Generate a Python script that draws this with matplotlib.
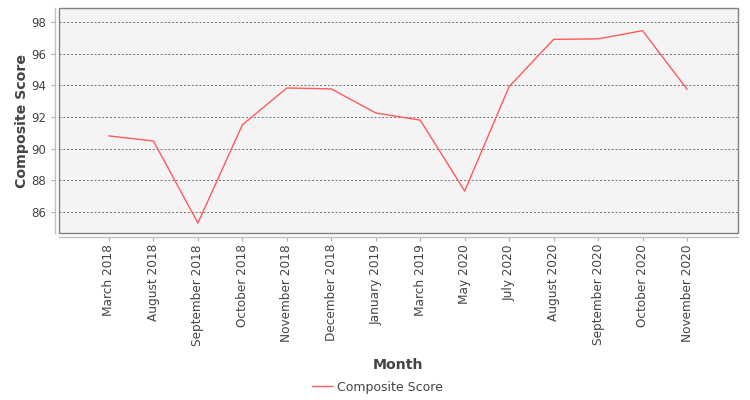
import matplotlib
matplotlib.use("Agg")
import matplotlib.pyplot as plt
from matplotlib.patches import Rectangle

# --- data ---
months = ["March 2018", "August 2018", "September 2018", "October 2018",
          "November 2018", "December 2018", "January 2019", "March 2019",
          "May 2020", "July 2020", "August 2020", "September 2020",
          "October 2020", "November 2020"]
scores = [90.8, 90.48, 85.3, 91.5, 93.83, 93.77, 92.25, 91.8,
          87.32, 93.92, 96.9, 96.93, 97.45, 93.75]
y_ticks = [86, 88, 90, 92, 94, 96, 98]

plt.rcParams['font.family'] = ['DejaVu Sans']

fig = plt.figure(figsize=(7.5, 4), dpi=100)
ax = fig.add_axes([59 / 750, 1 - 233 / 400, 679 / 750, 225 / 400])
ax.set_facecolor('#f4f4f4')

# axis lines sit a little away from the plot frame, JFreeChart style
# (set_position resets ticks, so do this first)
for side in ['top', 'right']:
    ax.spines[side].set_visible(False)
for side in ['left', 'bottom']:
    ax.spines[side].set_position(('outward', 3))
    ax.spines[side].set_color('#c0c0c0')
    ax.spines[side].set_linewidth(1)

frame = Rectangle((0, 0), 1, 1, transform=ax.transAxes, fill=False,
                  edgecolor='#808080', linewidth=1, clip_on=False, zorder=5)
ax.add_patch(frame)

x = list(range(len(months)))
line, = ax.plot(x, scores, color='#ff5a5a', linewidth=1, label='Composite Score')

ax.set_xlim(-1.124, len(months) - 1 + 1.146)
ax.set_ylim(84.67, 98.88)
ax.set_yticks(y_ticks)
ax.set_xticks(x)
ax.set_xticklabels(months, rotation=90, fontsize=8.7, color='#444444')
ax.tick_params(axis='y', labelsize=8.5, labelcolor='#444444', length=3,
               color='#b0b0b0', pad=3)
ax.tick_params(axis='x', length=3, color='#b0b0b0', pad=2)

ax.grid(True, axis='y', color='#707070', linestyle=(0, (2, 2)), linewidth=0.7)
ax.set_axisbelow(True)

ax.set_ylabel('Composite Score', fontsize=10.2, fontweight='bold', color='#444444', labelpad=2)
ax.set_xlabel('Month', fontsize=10.2, fontweight='bold', color='#444444', labelpad=9)

fig.legend(handles=[line], loc='center', bbox_to_anchor=(0.503, 13 / 400),
           frameon=False, fontsize=9, handlelength=1.6, handletextpad=0.4,
           labelcolor='#444444')

fig.savefig('out.png', dpi=100)
